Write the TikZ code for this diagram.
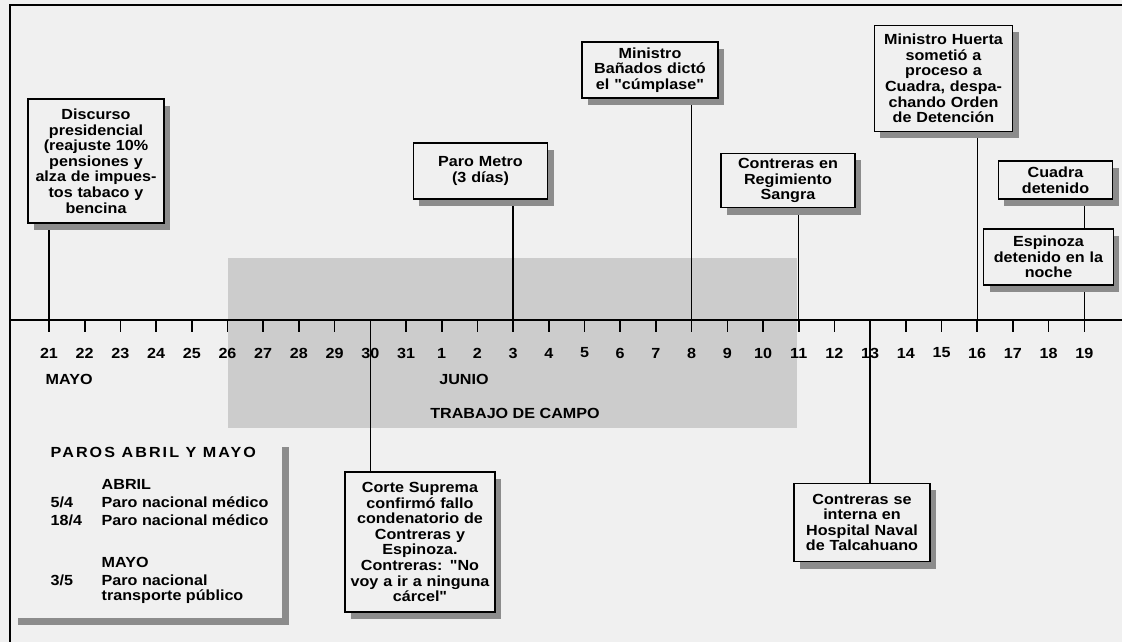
\documentclass[tikz,border=0pt]{standalone}
\usepackage{fontspec}
\setmainfont{Liberation Sans}[FakeStretch=1.1, Ligatures=TeXOff]
\newfontfamily\wideheads{Liberation Sans}[FakeStretch=1.1, LetterSpace=14, Ligatures=TeXOff]
\usetikzlibrary{shadows,backgrounds}

\definecolor{paper}{gray}{0.94}
\definecolor{band}{gray}{0.80}
\definecolor{shade}{gray}{0.55}

\begin{document}
\begin{tikzpicture}[x=0.75pt, y=-0.75pt, font=\fontsize{11}{11.7}\selectfont\bfseries]
    \tikzstyle{event}=[rectangle, draw=black, line width=0.9pt, fill=paper, align=center, inner sep=1pt,
        drop shadow={shadow xshift=4.5pt, shadow yshift=-5pt, fill=shade, opacity=1}]
    \tikzstyle{stem}=[draw=black, line width=1pt]
    \tikzstyle{axis}=[draw=black, line width=1.5pt]
    \tikzstyle{day}=[inner sep=0pt]

    \useasboundingbox (0,0) rectangle (1122,642);

    % eventos
    \node[event, minimum width=102pt, minimum height=93pt, text width=98pt] (disc) at (96,161)
        {Discurso\\ presidencial\\ (reajuste 10\%\\ pensiones y\\ alza de impues-\\ tos tabaco y\\ bencina};
    \node[event, minimum width=101pt, minimum height=42pt, text width=97pt] (metro) at (480.5,171)
        {Paro Metro\\ (3 días)};
    \node[event, minimum width=102pt, minimum height=42pt, text width=98pt] (banados) at (650,70)
        {Ministro\\ Bañados dictó\\ el "cúmplase"};
    \node[event, minimum width=100.5pt, minimum height=41pt, text width=96pt] (sangra) at (788,180.5)
        {Contreras en\\ Regimiento\\ Sangra};
    \node[event, minimum width=104pt, minimum height=80pt, text width=100pt] (huerta) at (943.5,78.5)
        {Ministro Huerta\\ sometió a\\ proceso a\\ Cuadra, despa-\\ chando Orden\\ de Detención};
    \node[event, minimum width=86pt, minimum height=28.5pt, text width=82pt] (cuadra) at (1055.5,180)
        {Cuadra\\ detenido};
    \node[event, minimum width=97pt, minimum height=42pt, text width=93pt] (espinoza) at (1048.5,257)
        {Espinoza\\ detenido en la\\ noche};
    \node[event, minimum width=112.5pt, minimum height=105pt, text width=109pt] (corte) at (420,542)
        {Corte Suprema\\ confirmó fallo\\ condenatorio de\\ Contreras y\\ Espinoza.\\ Contreras: "No\\ voy a ir a ninguna\\ cárcel"};
    \node[event, minimum width=102pt, minimum height=59pt, text width=98pt] (hospital) at (862,522.5)
        {Contreras se\\ interna en\\ Hospital Naval\\ de Talcahuano};

    % paros
    \node[fill=paper, minimum width=203pt, minimum height=133.5pt,
        drop shadow={shadow xshift=5.25pt, shadow yshift=-5.25pt, fill=shade, opacity=1}] (paros) at (146.5,529) {};
    \node[anchor=west] (parostit) at (46,452) {\wideheads PAROS ABRIL Y MAYO};
    \node[anchor=west] (abril) at (97,484) {ABRIL};
    \node[anchor=west] (f54) at (46,502) {5/4};
    \node[anchor=west] (p54) at (97,502) {Paro nacional médico};
    \node[anchor=west] (f184) at (46,520) {18/4};
    \node[anchor=west] (p184) at (97,520) {Paro nacional médico};
    \node[anchor=west] (mayo2) at (97,562) {MAYO};
    \node[anchor=west] (f35) at (46,580) {3/5};
    \node[anchor=west] (p35) at (97,580) {Paro nacional};
    \node[anchor=west] (p35b) at (97,597) {transporte público};

    % eje de dias
    \coordinate (ejeA) at (10,320);
    \coordinate (ejeB) at (1122,320);
    \draw[axis] (ejeA) -- (ejeB);
    \foreach \d [count=\i from 0] in {21,22,23,24,25,26,27,28,29,30,31,1,2,3,4,5,6,7,8,9,10,11,12,13,14,15,16,17,18,19} {
        \coordinate (d\d) at (49+35.7*\i,320);
        \draw[stem, line width=1.2pt] (d\d) -- ++(0,12);
        \node[day] (l\d) at (49+35.7*\i,353) {\d};
    }
    \node[anchor=west] (mayo) at (41,379) {MAYO};
    \node (junio) at (464,379) {JUNIO};
    \node (campo) at (515,413) {TRABAJO DE CAMPO};

    % marco
    \draw[axis] (10,642) -- (10,5) -- (1122,5);

    \begin{scope}[on background layer]
        \fill[paper] (0,0) rectangle (1122,642);
        \fill[band] (228,258) rectangle (797,428);
        \draw[stem] (disc.south -| d21) -- (d21);
        \draw[stem] (metro.south -| d3) -- (d3);
        \draw[stem] (banados.south -| d8) -- (d8);
        \draw[stem] (sangra.south -| d11) -- (d11);
        \draw[stem] (huerta.south -| d16) -- (d16);
        \draw[stem] (cuadra.south -| d19) -- (espinoza.north -| d19);
        \draw[stem] (espinoza.south -| d19) -- (d19);
        \draw[stem] (d30) -- (corte.north -| d30);
        \draw[stem] (d13) -- (hospital.north -| d13);
    \end{scope}
\end{tikzpicture}
\end{document}
